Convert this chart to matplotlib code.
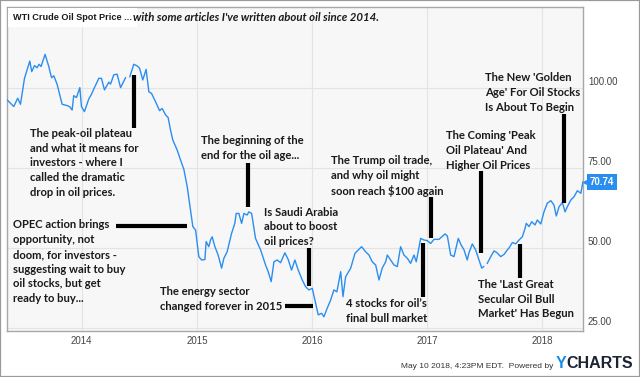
import numpy as np
import matplotlib.pyplot as plt
import matplotlib.transforms as mtransforms
from matplotlib.patches import Rectangle

# WTI spot price (decimal year, USD/bbl); nan = gap in the feed
years = [2013.350, 2013.409, 2013.443, 2013.467, 2013.502, 2013.548, 2013.565,
         2013.589, 2013.611, 2013.629, 2013.646, 2013.681, 2013.713, 2013.737,
         2013.757, 2013.785, 2013.829, 2013.872, 2013.896, 2013.916, 2013.930,
         2013.954, 2013.983, 2013.997, 2014.023, 2014.061, 2014.081, 2014.110,
         2014.148, 2014.171, 2014.197, 2014.235, 2014.250, 2014.278, 2014.307,
         2014.337, 2014.380, 2014.400, 2014.417, 2014.452, 2014.481, 2014.502,
         2014.530, 2014.559, 2014.583, 2014.606, 2014.641, 2014.676, 2014.698,
         2014.728, 2014.750, 2014.771, 2014.791, 2014.829, 2014.858, 2014.887,
         2014.916, 2014.945, 2014.965, 2014.989, 2015.017, 2015.041, 2015.070,
         2015.081, 2015.104, 2015.119, 2015.133, 2015.157, 2015.185, 2015.215,
         2015.235, 2015.263, 2015.302, 2015.330, 2015.342, 2015.365, 2015.389,
         2015.409, 2015.437, 2015.452, 2015.476, 2015.510, 2015.554, 2015.597,
         2015.620, 2015.646, 2015.670, 2015.698, 2015.728, 2015.765, 2015.794,
         2015.823, 2015.852, 2015.881, 2015.916, 2015.945, 2015.974, 2016.003,
         2016.032, 2016.055, 2016.084, 2016.104, 2016.133, 2016.163, 2016.191,
         2016.217, 2016.250, 2016.270, 2016.293, 2016.337, 2016.374, 2016.403,
         2016.432, 2016.467, 2016.496, 2016.524, 2016.554, 2016.583, 2016.611,
         2016.641, 2016.655, 2016.684, 2016.713, 2016.742, 2016.771, 2016.800,
         2016.829, 2016.858, 2016.887, 2016.907, 2016.945, 2016.974, 2017.003,
         2017.032, 2017.061, 2017.104, 2017.157, 2017.177, 2017.206, 2017.235,
         2017.272, 2017.296, 2017.322, 2017.350, 2017.365, 2017.394, 2017.423,
         2017.452, 2017.476, 2017.493, 2017.508, 2017.524, 2017.554, 2017.583,
         2017.609, 2017.641, 2017.670, 2017.698, 2017.713, 2017.742, 2017.771,
         2017.800, 2017.829, 2017.852, 2017.863, 2017.887, 2017.910, 2017.939,
         2017.959, 2017.989, 2018.017, 2018.046, 2018.076, 2018.104, 2018.124,
         2018.148, 2018.177, 2018.200, 2018.220, 2018.250, 2018.278, 2018.307,
         2018.337, 2018.356]
prices = [96.3, 94.2, 96.8, 94.9, 103.0, 108.4, 105.1,
          107.0, 106.3, 107.4, 106.7, 110.5, 106.7, 103.2,
          103.8, 101.2, 94.9, 94.5, 94.1, 93.1, 97.6,
          97.0, 100.1, 94.2, 92.6, 96.6, 97.8, 100.1,
          103.0, 103.0, 99.4, 101.8, 101.2, 104.1, 104.3,
          100.1, 103.2, np.nan, 103.5, 107.4, 106.9, 106.2,
          102.5, 105.8, 98.8, 98.3, 95.7, 92.9, 93.6,
          91.6, 90.8, 86.9, 83.75, 80.6, 77.5, 74.6,
          69.2, 61.9, 56.7, 55.6, 47.3, 46.25, 46.4,
          52.0, 50.4, 52.5, 53.5, 50.4, 47.8, 43.7,
          46.8, 48.8, 54.6, 57.7, 60.8, 60.8, 57.7,
          60.8, 60.3, 61.3, 60.8, 53.0, 49.4, 44.7,
          42.6, 39.5, 45.7, 46.25, 45.4, 48.5, 46.4,
          43.1, 46.25, 43.1, 40.0, 37.9, 36.9, 37.4,
          32.7, 29.1, 29.6, 28.5, 31.2, 33.75, 36.9,
          36.3, 42.6, 34.8, 41.0, 43.7, 48.3, 49.4,
          50.4, 48.8, 47.8, 45.7, 44.7, 40.0, 43.7,
          45.7, 47.8, 46.25, 44.7, 44.2, 50.4, 47.8,
          46.8, 45.2, 47.8, 45.7, 53.0, 52.5, 52.3,
          51.4, 52.7, 52.7, 54.4, 53.75, 47.8, 47.3,
          53.0, 51.0, 49.4, 46.25, 48.5, 51.25, 49.4,
          46.25, 43.7, 44.2, np.nan, 45.2, 47.3, 49.1,
          48.5, 47.3, 48.0, 49.4, 50.0, 51.7, 51.3,
          52.5, 53.5, 56.1, 57.7, 56.7, 58.2, 57.2,
          58.75, 57.5, 61.3, 64.0, 64.8, 63.4, 60.0,
          62.9, 64.2, 61.3, 62.9, 65.0, 66.0, 67.9,
          67.1, 70.74]
year_ticks = [2014, 2015, 2016, 2017, 2018]
price_ticks = [25, 50, 75, 100]

articles = [
    "The peak-oil plateau\nand what it means for\ninvestors - where I\ncalled the dramatic\ndrop in oil prices.",
    "The beginning of the\nend for the oil age...",
    "OPEC action brings\nopportunity, not\ndoom, for investors -\nsuggesting wait to buy\noil stocks, but get\nready to buy...",
    "Is Saudi Arabia\nabout to boost\noil prices?",
    "The energy sector\nchanged forever in 2015",
    "The Trump oil trade,\nand why oil might\nsoon reach $100 again",
    "The Coming 'Peak\nOil Plateau' And\nHigher Oil Prices",
    "The New 'Golden\nAge' For Oil Stocks\nIs About To Begin",
    "4 stocks for oil\u2019s\nfinal bull market",
    "The 'Last Great\nSecular Oil Bull\nMarket' Has Begun",
]
# layout: text anchor (left, middle) and connector segment, in data units
text_pos = [(2013.548, 76.6), (2015.035, 81.2), (2013.400, 45.7), (2015.583, 56.6),
            (2014.676, 34.0), (2016.165, 72.4), (2017.163, 80.4), (2017.504, 98.6),
            (2016.293, 30.3), (2017.446, 34.0)]
connectors = [((2014.452, 2014.452), (104.1, 87.5)),
              ((2015.443, 2015.443), (76.6, 62.8)),
              ((2014.296, 2014.913), (56.9, 56.9)),
              ((2015.974, 2015.974), (50.0, 38.1)),
              ((2015.765, 2016.009), (31.9, 31.9)),
              ((2017.032, 2017.032), (66.0, 53.2)),
              ((2017.467, 2017.467), (74.2, 48.3)),
              ((2018.191, 2018.191), (91.9, 64.2)),
              ((2016.965, 2016.965), (51.5, 34.8)),
              ((2017.809, 2017.809), (51.2, 40.5))]

BLUE = '#2a8ef0'
INK = '#1a1a1a'
W, H = 640, 377

fig = plt.figure(figsize=(W / 100, H / 100), dpi=100)
fig.patch.set_facecolor('white')
ax = fig.add_axes([7 / W, (H - 330.7) / H, 576 / W, 323.4 / H])
ax.set_facecolor('#f7f7f7')

ax.plot(years, prices, color=BLUE, lw=1.0, zorder=3)
ax.set_xlim(2013.35, years[-1])
ax.set_ylim(24.16, 125.2)

ax.set_xticks(year_ticks)
ax.set_xticklabels([str(y) for y in year_ticks])
ax.set_yticks(price_ticks)
ax.set_yticklabels(['%.2f' % p for p in price_ticks])
ax.yaxis.tick_right()
ax.tick_params(length=0, labelsize=7, colors='#444444')
ax.tick_params(axis='x', pad=3.5)
ax.tick_params(axis='y', pad=3.5)
for lab in ax.get_xticklabels() + ax.get_yticklabels():
    lab.set_family('Liberation Sans')
offset = mtransforms.ScaledTranslation(0, 0.07, fig.dpi_scale_trans)
for t in ax.yaxis.get_major_ticks():
    t.label2.set_transform(t.label2.get_transform() + offset)
ax.grid(True, color='#e4e4e4', lw=0.8, zorder=0)
ax.set_axisbelow(True)
for s in ax.spines.values():
    s.set_color('#a8a8a8')
    s.set_linewidth(1.0)

for txt, (tx, ty), (cx, cy) in zip(articles, text_pos, connectors):
    ax.text(tx, ty, txt, ha='left', va='center', fontsize=8.1,
            fontweight='bold', family='Lato', color=INK, linespacing=1.42,
            zorder=5)
    ax.plot(cx, cy, color='black', lw=3.0, solid_capstyle='butt', zorder=5)

# last value tag
trans = mtransforms.blended_transform_factory(ax.transAxes, ax.transData)
ax.plot([1.0 + 2.5 / 576], [prices[-1]], marker='<', ms=5, color=BLUE,
        transform=trans, clip_on=False, zorder=6)
ax.text(1.0 + 7 / 576, prices[-1], '%.2f' % prices[-1], transform=trans,
        ha='left', va='center', fontsize=7, fontweight='bold', color='white',
        family='Liberation Sans', zorder=6,
        bbox=dict(boxstyle='square,pad=0.3', fc=BLUE, ec='none'))

# title
renderer = fig.canvas.get_renderer()
t1 = fig.text(13 / W, 1 - 17.5 / H, 'WTI Crude Oil Spot Price ...', fontsize=6.6,
              fontweight='bold', family='Liberation Sans', color=INK, va='center',
              bbox=dict(boxstyle='square,pad=0.5', fc='white', ec='none'))
bb = t1.get_window_extent(renderer)
fig.text(bb.x1 / W + 1 / W, 1 - 17.5 / H,
         "with some articles I've written about oil since 2014.", fontsize=8.2,
         fontweight='bold', fontstyle='italic', family='Lato', color=INK,
         va='center')

# footer
fig.text(553 / W, 1 - 367 / H, 'May 10 2018, 4:23PM EDT.  Powered by', fontsize=6,
         family='Liberation Sans', color='#333333', ha='right', va='center')
ty = fig.text(556 / W, 1 - 364 / H, 'Y', fontsize=11.5, fontweight='bold',
              family='Liberation Sans', color='#1a8ce8', va='center')
bb = ty.get_window_extent(renderer)
fig.text(bb.x1 / W, 1 - 364 / H, 'CHARTS', fontsize=11.5, fontweight='bold',
         family='Liberation Sans', color='#1b2433', va='center')

fig.patches.append(Rectangle((0, 0), 1, 1, transform=fig.transFigure, fill=False,
                             edgecolor='#9a9a9a', lw=1.6))

fig.savefig('out.png', dpi=100)
